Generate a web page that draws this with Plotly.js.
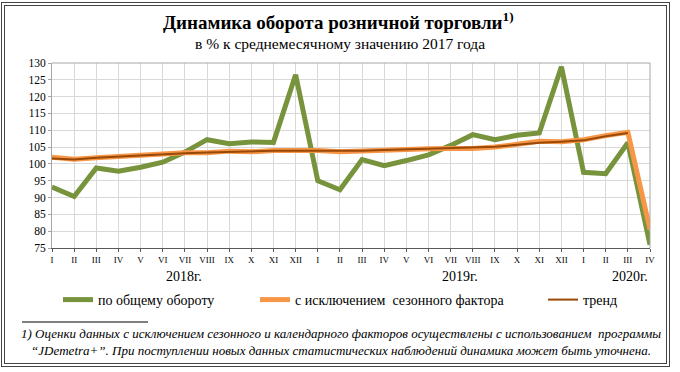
<!DOCTYPE html>
<html>
<head>
<meta charset="utf-8">
<script src="https://cdn.plot.ly/plotly-3.0.1.min.js"></script>
<style>
  html, body { margin: 0; padding: 0; background: #fff; }
  #wrap { position: relative; width: 680px; height: 372px; }
  #chart { position: absolute; left: 0; top: 0; width: 680px; height: 372px; }
  #frame { position: absolute; left: 1px; top: 2px; width: 661px; height: 357px;
           border: 4px double #444; pointer-events: none; }
</style>
</head>
<body>
<div id="wrap">
  <div id="chart"></div>
  <div id="frame"></div>
</div>
<script>
// Month labels (Roman numerals), 2018-I ... 2020-IV
const monthLabels = ["I","II","III","IV","V","VI","VII","VIII","IX","X","XI","XII",
                     "I","II","III","IV","V","VI","VII","VIII","IX","X","XI","XII",
                     "I","II","III","IV"];
const yearLabels = ["2018г.", "2019г.", "2020г."];

// по общему обороту
const totalTurnover = [93.1, 90.3, 98.8, 97.8, 99.0, 100.5, 103.5, 107.2, 106.0, 106.5, 106.4, 126.5,
                       95.0, 92.3, 101.3, 99.5, 101.0, 102.7, 105.5, 108.7, 107.2, 108.5, 109.2, 128.9,
                       97.5, 97.1, 106.3, 76.0];
// с исключением сезонного фактора
const seasonallyAdjusted = [102.0, 101.4, 101.8, 102.2, 102.6, 102.9, 103.3, 103.3, 103.8, 103.6, 104.0, 104.0,
                            104.0, 103.6, 103.9, 104.2, 104.3, 104.5, 104.6, 104.6, 105.0, 105.8, 106.7, 106.6,
                            107.2, 108.4, 109.4, 80.5];
// тренд
const trend = [101.6, 101.3, 101.8, 102.2, 102.5, 102.9, 103.2, 103.4, 103.6, 103.8, 103.9, 103.9,
               103.9, 103.8, 103.9, 104.1, 104.3, 104.5, 104.6, 104.8, 105.1, 105.7, 106.3, 106.6,
               107.0, 108.2, 109.2, null];

const idx = monthLabels.map((_, i) => i);
const serif = "Liberation Serif";

const traces = [
  { x: idx, y: totalTurnover, type: "scatter", mode: "lines", name: "по общему обороту",
    line: { color: "#77933C", width: 5 }, legend: "legend" },
  { x: idx, y: seasonallyAdjusted, type: "scatter", mode: "lines", name: "с исключением  сезонного фактора",
    line: { color: "#F79646", width: 5 }, legend: "legend2" },
  { x: idx, y: trend, type: "scatter", mode: "lines", name: "тренд",
    line: { color: "#984807", width: 2 }, legend: "legend3" }
];

// plot area: x 52..650 px, y 63..248 px
const PH = 185;
function py(ypx) { return (248 - ypx) / PH; }

const legendBase = {
  orientation: "h", xref: "container", yref: "container", yanchor: "middle", y: 1 - 300/372,
  font: { family: serif, size: 14, color: "#000" }, bgcolor: "rgba(0,0,0,0)", itemwidth: 30
};

const layout = {
  width: 680, height: 372,
  margin: { l: 52, r: 30, t: 63, b: 124 },
  paper_bgcolor: "#fff", plot_bgcolor: "#fff",
  font: { family: serif, color: "#000" },
  xaxis: {
    range: [0, 27], tickmode: "array", tickvals: idx, ticktext: monthLabels,
    tickfont: { family: serif, size: 9, color: "#000" }, tickangle: 0,
    showgrid: true, gridcolor: "#d9d9d9", gridwidth: 1,
    showline: true, linecolor: "#595959", linewidth: 1, mirror: false,
    ticks: "outside", ticklen: 3, tickcolor: "#595959", zeroline: false
  },
  yaxis: {
    range: [75, 130], dtick: 5, tick0: 75,
    tickfont: { family: serif, size: 11.5, color: "#000" },
    showgrid: true, gridcolor: "#d9d9d9", gridwidth: 1,
    showline: true, linecolor: "#a6a6a6", linewidth: 1, mirror: false,
    ticks: "outside", ticklen: 3, tickcolor: "#a6a6a6", zeroline: false
  },
  showlegend: true,
  legend: Object.assign({}, legendBase, { x: 58/680 }),
  legend2: Object.assign({}, legendBase, { x: 255/680 }),
  legend3: Object.assign({}, legendBase, { x: 543/680 }),
  shapes: [
    { type: "line", xref: "paper", yref: "paper", x0: 0, x1: 1, y0: 1, y1: 1, line: { color: "#a6a6a6", width: 1 } },
    { type: "line", xref: "paper", yref: "paper", x0: 1, x1: 1, y0: 0, y1: 1, line: { color: "#a6a6a6", width: 1 } },
    { type: "line", xref: "paper", yref: "paper", x0: -30/598, x1: 96/598, y0: py(322), y1: py(322), line: { color: "#000", width: 1 } }
  ],
  annotations: [
    { text: "<b>Динамика оборота розничной торговли<sup>1)</sup></b>", xref: "paper", yref: "paper",
      x: (338 - 52)/598, y: py(21), xanchor: "center", yanchor: "middle", showarrow: false,
      font: { family: serif, size: 19, color: "#000" } },
    { text: "в % к среднемесячному значению 2017 года", xref: "paper", yref: "paper",
      x: (340 - 52)/598, y: py(43), xanchor: "center", yanchor: "middle", showarrow: false,
      font: { family: serif, size: 15.5, color: "#000" } },
    { text: yearLabels[0], x: 5.95, y: py(276), xref: "x", yref: "paper", showarrow: false,
      font: { family: serif, size: 14, color: "#000" }, yanchor: "middle" },
    { text: yearLabels[1], x: 18.4, y: py(276), xref: "x", yref: "paper", showarrow: false,
      font: { family: serif, size: 14, color: "#000" }, yanchor: "middle" },
    { text: yearLabels[2], x: 26.1, y: py(276), xref: "x", yref: "paper", showarrow: false,
      font: { family: serif, size: 14, color: "#000" }, yanchor: "middle" },
    { text: "<i>1) Оценки данных с исключением сезонного и календарного факторов осуществлены с использованием  программы<br>“JDemetra+”. При поступлении новых данных статистических наблюдений динамика может быть уточнена.</i>",
      xref: "paper", yref: "paper", x: (341 - 52)/598, y: py(342), xanchor: "center", yanchor: "middle",
      showarrow: false, align: "center", font: { family: serif, size: 13, color: "#000" } }
  ]
};

Plotly.newPlot("chart", traces, layout, { displayModeBar: false, staticPlot: true });
</script>
</body>
</html>
